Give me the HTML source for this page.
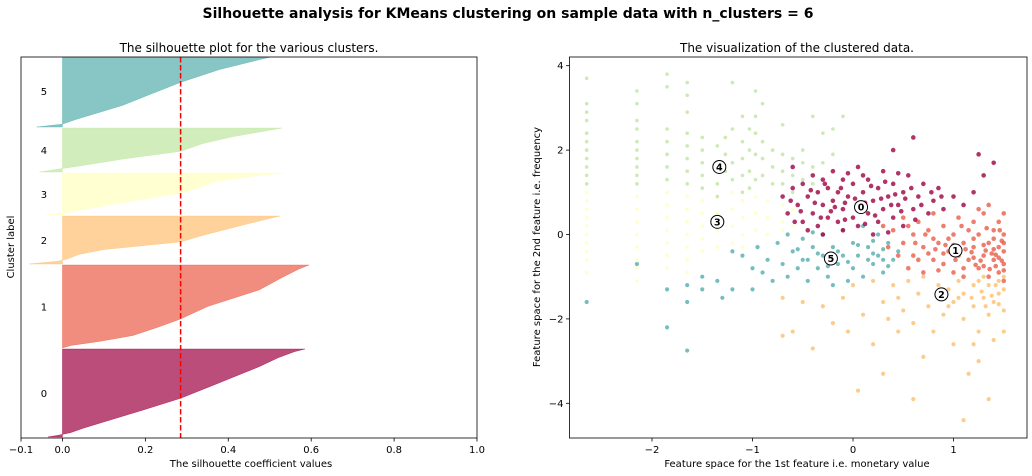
<!DOCTYPE html>
<html><head><meta charset="utf-8">
<style>
html,body{margin:0;padding:0;background:#fff;overflow:hidden;width:1032px;height:476px;}
svg{display:block;font-family:"DejaVu Sans","Liberation Sans",sans-serif;}
</style></head>
<body>
<svg id="chart" width="1032" height="476" viewBox="0 0 1032 476">
<text x="508" y="18" text-anchor="middle" font-size="14" font-weight="bold">Silhouette analysis for KMeans clustering on sample data with n_clusters = 6</text>
<text x="249" y="52" text-anchor="middle" font-size="12">The silhouette plot for the various clusters.</text>
<text x="797" y="52" text-anchor="middle" font-size="12">The visualization of the clustered data.</text>
<g id="left"></g>
<g id="right"></g>
<text x="251" y="467" text-anchor="middle" font-size="10">The silhouette coefficient values</text>
<text transform="translate(14,247) rotate(-90)" text-anchor="middle" font-size="10">Cluster label</text>
<text x="797" y="467" text-anchor="middle" font-size="10">Feature space for the 1st feature i.e. monetary value</text>
<text transform="translate(540,247) rotate(-90)" text-anchor="middle" font-size="10">Feature space for the 2nd feature i.e. frequency</text>
</svg>
<script>
// ---- silhouette data ----
const clusterIds = [0,1,2,3,4,5];
const clusterSizes = [880, 830, 480, 420, 440, 720];
const clusterGap = 10;
const silFractions = [
  [0,0.02,0.05,0.1,0.2,0.3,0.44,0.6,0.8,0.9,0.97,1],
  [0,0.03,0.08,0.15,0.25,0.35,0.5,0.7,0.85,0.95,1],
  [0,0.06,0.1,0.2,0.3,0.46,0.6,0.8,0.95,1],
  [0,0.04,0.2,0.35,0.52,0.65,0.8,0.95,1],
  [0,0.08,0.12,0.3,0.47,0.65,0.8,0.95,1],
  [0,0.04,0.1,0.3,0.45,0.62,0.8,0.97,1]
];
const silValues = [
  [-0.035,-0.01,0.02,0.05,0.12,0.19,0.285,0.37,0.475,0.52,0.56,0.585],
  [0.0,0.02,0.09,0.17,0.23,0.285,0.35,0.475,0.53,0.57,0.595],
  [-0.08,-0.01,0.01,0.04,0.1,0.285,0.34,0.43,0.5,0.525],
  [-0.04,0.0,0.09,0.18,0.285,0.33,0.37,0.48,0.535],
  [-0.055,0.0,0.03,0.15,0.285,0.34,0.41,0.5,0.53],
  [-0.062,0.0,0.03,0.145,0.21,0.285,0.38,0.5,0.51]
];
const silAverage = 0.285;
const silXTicks = [-0.1,0,0.2,0.4,0.6,0.8,1.0];
const silXTickLabels = ["−0.1","0.0","0.2","0.4","0.6","0.8","1.0"];
const colors = ["#9e0142","#e95c47","#fdbf6f","#ffffbe","#bfe5a0","#54aead"];

// ---- scatter data ----
const c0Pts = [-0.7,0.9,-0.65,0.5,-0.6,1.1,-0.55,0.7,-0.5,0.3,-0.5,1.2,-0.45,0.9,-0.4,0.5,-0.4,1.4,-0.35,0.2,-0.35,1.0,-0.3,0.7,-0.3,1.3,-0.25,0.4,-0.25,1.1,-0.2,0.8,-0.2,1.5,-0.15,0.3,-0.15,1.0,-0.1,0.6,-0.1,1.3,-0.05,0.9,0,0.4,0,1.2,0.05,0.7,0.05,1.6,0.1,1.0,0.15,0.5,0.15,1.3,0.2,0.8,0.25,0.3,0.25,1.1,0.3,0.6,0.3,1.5,0.35,0.9,0.4,0.4,0.4,1.2,0.45,0.7,0.5,1.0,0.5,0.2,0.55,1.4,0.6,0.6,0.65,0.9,0.7,1.2,0.75,0.5,0.8,0.8,0.85,1.1,0.9,0.6,1.0,0.9,1.1,0.7,1.2,1.0,1.3,1.4,0.6,2.3,0.4,2.0,1.4,1.7,1.25,1.9,-0.6,1.6,-0.3,0.0,0.2,0.0,-0.45,0.1,0.05,0.2,-0.1,0.1,0.35,0.05,0.1,1.4,-0.05,1.45,-0.62,0.8,-0.38,0.75,-0.22,0.55,-0.08,0.35,0.12,0.75,0.28,0.85,0.48,0.55,0.62,0.35,0.78,1.0,-0.52,0.55,-0.28,1.2,-0.12,1.1,0.18,1.15,0.42,0.95,0.58,1.1,-0.42,1.05,-0.18,0.65,0.02,0.85,0.22,0.45,0.38,0.7,0.52,0.85,0.68,0.7,0.88,0.9,-0.58,0.3,-0.32,0.4,-0.08,0.75,0.12,0.25,0.32,1.25,0.45,1.45];
const c1Pts = [0.3,0.2,0.35,-0.3,0.4,0.1,0.45,-0.5,0.5,0.4,0.5,-0.2,0.55,-0.8,0.6,0.0,0.6,-0.5,0.65,0.3,0.7,-0.3,0.7,-0.9,0.75,0.1,0.8,-0.6,0.8,0.5,0.85,-0.2,0.9,0.2,0.9,-0.7,0.95,-0.4,1.0,0.0,1.0,-0.9,1.05,0.4,1.05,-0.5,1.1,-0.2,1.1,-1.0,1.15,0.1,1.15,-0.6,1.2,-0.3,1.2,0.3,1.25,-0.8,1.25,0.0,1.3,-0.5,1.3,0.5,1.35,-0.2,1.35,-1.0,1.4,0.1,1.4,-0.6,1.45,-0.3,1.45,-0.9,1.5,0.0,1.5,-0.4,1.5,-0.7,1.5,-1.1,1.5,0.5,1.5,-0.2,1.45,0.3,1.4,-0.1,1.3,-0.75,1.2,-0.55,1.1,-0.8,1.0,-0.25,0.9,-0.45,0.8,-0.1,0.65,-0.6,0.55,0.2,1.25,0.6,1.35,0.7,1.4,-0.35,1.45,-0.55,1.5,-0.85,1.2,-0.1,1.3,-0.25,1.38,-0.45,1.42,-0.75,1.48,-0.15,1.33,0.15,1.18,-0.42,1.08,0.2,0.95,-0.1,0.85,-0.85,0.75,-0.45,1.27,-0.62,1.22,-0.72,1.32,-0.38,1.42,-0.48,1.48,-0.62,1.12,-0.35,1.02,-0.6,0.92,-0.25,0.82,-0.35,0.62,-0.2,0.72,0.0,1.36,-0.82,1.46,0.1];
const c2Pts = [-0.7,-1.5,-0.7,-2.4,-0.6,-2.3,-0.5,-1.6,-0.4,-2.7,-0.3,-1.7,-0.2,-2.1,-0.1,-1.5,-0.05,-2.3,0.0,-1.2,0.05,-3.7,0.1,-1.9,0.2,-1.1,0.2,-2.6,0.3,-1.6,0.3,-3.3,0.4,-1.2,0.45,-2.3,0.5,-1.8,0.55,-1.1,0.6,-2.1,0.65,-1.4,0.7,-2.9,0.7,-1.0,0.75,-1.7,0.8,-2.3,0.85,-1.2,0.9,-1.9,0.95,-1.3,1.0,-2.6,1.0,-1.6,1.05,-1.1,1.1,-2.0,1.1,-1.4,1.15,-3.3,1.2,-1.2,1.2,-1.7,1.25,-2.3,1.3,-1.0,1.3,-1.5,1.35,-1.9,1.35,-1.2,1.4,-1.6,1.4,-2.5,1.45,-1.1,1.45,-1.4,1.5,-1.8,1.5,-1.3,1.5,-2.3,1.5,-1.0,1.1,-4.4,1.35,-3.9,0.6,-3.9,1.25,-3.0,0.45,-1.5,0.35,-2.0,1.2,-2.6,1.28,-1.35,1.38,-1.45,1.42,-1.2,1.32,-1.7,1.18,-1.5,1.25,-1.1,1.45,-1.65,1.05,-1.5,0.95,-1.7];
const c3Pts = [-2.65,1.0,-2.65,0.8,-2.65,0.6,-2.65,0.4,-2.65,0.2,-2.65,0,-2.65,-0.2,-2.65,-0.4,-2.65,-0.6,-2.65,-0.9,-2.15,0.9,-2.15,0.6,-2.15,0.3,-2.15,0,-2.15,-0.3,-2.15,-0.6,-2.15,-0.8,-2.15,-1.1,-1.85,1.0,-1.85,0.7,-1.85,0.4,-1.85,0.1,-1.85,-0.2,-1.85,-0.5,-1.85,-0.8,-1.65,0.9,-1.65,0.6,-1.65,0.3,-1.65,0,-1.65,-0.3,-1.65,-0.6,-1.65,-0.9,-1.5,0.8,-1.5,0.5,-1.5,0.2,-1.5,-0.1,-1.5,-0.4,-1.35,0.9,-1.35,0.5,-1.35,0.1,-1.35,-0.3,-1.2,1.0,-1.2,0.6,-1.2,0.2,-1.2,-0.2,-1.1,0.8,-1.1,0.4,-1.1,0.0,-1.1,-0.3,-0.97,0.9,-0.97,0.5,-0.97,0.1,-0.85,0.8,-0.85,0.4,-0.85,0.0,-0.7,0.7,-0.7,0.3,-0.7,0.1,-0.6,0.6,-0.6,0.2];
const c4Pts = [-2.65,3.7,-2.65,3.1,-2.65,2.9,-2.65,2.7,-2.65,2.4,-2.65,2.2,-2.65,2.0,-2.65,1.8,-2.65,1.6,-2.65,1.4,-2.65,1.2,-2.15,3.4,-2.15,3.1,-2.15,2.7,-2.15,2.5,-2.15,2.2,-2.15,2.0,-2.15,1.8,-2.15,1.6,-2.15,1.4,-2.15,1.2,-1.85,3.8,-1.85,3.5,-1.85,2.5,-1.85,2.2,-1.85,1.9,-1.85,1.6,-1.85,1.3,-1.65,3.6,-1.65,3.3,-1.65,2.9,-1.65,2.4,-1.65,2.1,-1.65,1.8,-1.65,1.5,-1.65,1.2,-1.5,2.3,-1.5,2.0,-1.5,1.7,-1.5,1.4,-1.5,1.1,-1.35,2.1,-1.35,1.2,-1.35,0.9,-1.27,2.3,-1.27,1.9,-1.27,1.5,-1.2,3.6,-1.2,2.5,-1.2,1.7,-1.2,1.3,-1.1,2.8,-1.1,2.2,-1.1,1.8,-1.1,1.4,-1.1,1.0,-1.03,2.5,-1.03,2.0,-1.03,1.5,-1.03,1.1,-0.97,3.4,-0.97,2.8,-0.97,2.4,-0.97,1.9,-0.97,1.3,-0.9,3.1,-0.9,2.2,-0.9,1.8,-0.9,1.4,-0.8,2.0,-0.8,1.6,-0.8,1.2,-0.7,2.6,-0.7,1.9,-0.7,1.5,-0.7,1.2,-0.6,1.8,-0.6,1.4,-0.6,1.0,-0.5,1.7,-0.5,1.3,-0.5,2.0,-0.4,2.8,-0.4,1.6,-0.4,1.2,-0.3,2.4,-0.3,1.7,-0.2,2.5,-0.2,1.9,-0.1,2.8];
const c5Pts = [-2.65,-1.6,-2.15,-0.7,-1.85,-1.3,-1.85,-2.2,-1.65,-1.2,-1.65,-1.6,-1.65,-2.75,-1.5,-1.0,-1.5,-1.3,-1.35,-1.1,-1.3,-1.5,-1.2,-0.4,-1.2,-1.3,-1.1,-0.5,-1.0,-0.8,-1.0,-1.3,-0.95,-0.3,-0.9,-0.9,-0.85,-0.6,-0.8,-1.1,-0.75,-0.2,-0.7,-0.7,-0.65,-1.0,-0.6,-0.4,-0.55,-0.8,-0.5,-0.1,-0.5,-0.6,-0.45,-1.1,-0.4,-0.3,-0.35,-0.8,-0.3,-0.5,-0.3,0.0,-0.25,-1.0,-0.2,-0.3,-0.15,-0.7,-0.1,0.1,-0.1,-0.5,-0.05,-1.1,0.0,-0.2,0.0,-0.8,0.05,-0.5,0.1,0.2,0.1,-1.0,0.15,-0.3,0.2,-0.7,0.25,0.0,0.25,-0.5,0.3,-0.9,0.35,-0.2,0.4,-0.6,0.45,-0.4,0.3,-0.35,-0.55,-0.35,-0.65,0.0,-0.4,0.05,0.2,-0.15,-0.2,-1.2,-0.35,-0.45,-0.15,-0.4,0.05,-0.25,0.15,-0.6,-0.45,-0.6,-0.25,-0.75,0.3,-0.6,0.2,-0.45,0.35,-0.75,-0.05,-0.65];
const scatterSets = [c0Pts,c1Pts,c2Pts,c3Pts,c4Pts,c5Pts];
const centerX = [0.08,1.02,0.88,-1.35,-1.33,-0.22];
const centerY = [0.65,-0.38,-1.42,0.3,1.6,-0.57];
const scXTicks = [-2,-1,0,1];
const scXTickLabels = ["−2","−1","0","1"];
const scYTicks = [4,2,0,-2,-4];
const scYTickLabels = ["4","2","0","−2","−4"];

const NS = "http://www.w3.org/2000/svg";
function mk(parent, tag, attrs){ const e=document.createElementNS(NS,tag); for(const k in attrs) e.setAttribute(k,attrs[k]); parent.appendChild(e); return e; }

// ---- left: silhouette ----
const L = {x0:21, x1:477, y0:57, y1:438};
const sxL = v => L.x0 + (v - (-0.1)) / 1.1 * (L.x1 - L.x0);
const yMaxL = 3810;
const syL = v => L.y1 - v / yMaxL * (L.y1 - L.y0);
const left = document.getElementById('left');
const clip = mk(left,'clipPath',{id:'clipL'});
mk(clip,'rect',{x:L.x0,y:L.y0,width:L.x1-L.x0,height:L.y1-L.y0});
const lg = mk(left,'g',{'clip-path':'url(#clipL)'});
let yLower = 10;
clusterIds.forEach((c,i)=>{
  const size = clusterSizes[i];
  const fr = silFractions[i], vals = silValues[i];
  let d = `M${sxL(0)},${syL(yLower)}`;
  fr.forEach((f,j)=>{ d += ` L${sxL(vals[j])},${syL(yLower + f*size)}`; });
  d += ` L${sxL(0)},${syL(yLower+size)} Z`;
  const p = mk(lg,'path',{d:d, fill:colors[i], 'fill-opacity':0.7, stroke:colors[i], 'stroke-opacity':0.7, 'stroke-width':0.5});
  
  
  const t = mk(left,'text',{x:sxL(-0.05)-1, y:syL(yLower+size/2)+4, 'font-size':10});
  t.textContent = String(c);
  
  
  yLower += size + clusterGap;
});
const avg = mk(lg,'line',{x1:sxL(silAverage),x2:sxL(silAverage),y1:L.y0,y2:L.y1,stroke:'#ff0000','stroke-width':1.5,'stroke-dasharray':'5.5,2.5'});


const fL = mk(left,'rect',{x:L.x0,y:L.y0,width:L.x1-L.x0,height:L.y1-L.y0,fill:'none',stroke:'#000','stroke-width':0.8});


silXTicks.forEach((v,i)=>{
  const x = sxL(v);
  mk(left,'line',{x1:x,x2:x,y1:L.y1,y2:L.y1+3.5,stroke:'#000','stroke-width':0.8});
  const t = mk(left,'text',{x:x,y:L.y1+15,'text-anchor':'middle','font-size':10});
  t.textContent = silXTickLabels[i];
  
  
});

// ---- right: scatter ----
const R = {x0:569.5, x1:1027, y0:57, y1:438};
const sxR = v => 853 + v * 100.5;
const syR = v => 234.5 - v * 42.2;
const right = document.getElementById('right');
const clipR = mk(right,'clipPath',{id:'clipR'});
mk(clipR,'rect',{x:R.x0,y:R.y0,width:R.x1-R.x0,height:R.y1-R.y0});
const rg = mk(right,'g',{'clip-path':'url(#clipR)'});
const order = [3,4,5,2,1,0];
const radii = [2.3,2.3,2.1,1.8,1.8,2.1];
order.forEach(ci=>{
  const pts = scatterSets[ci];
  const g = mk(rg,'g',{});
  
  
  for(let k=0;k<pts.length;k+=2){
    mk(g,'circle',{cx:sxR(pts[k]),cy:syR(pts[k+1]),r:radii[ci],fill:colors[ci],'fill-opacity':0.8});
  }
});
clusterIds.forEach((c,i)=>{
  const cx = sxR(centerX[i]), cy = syR(centerY[i]);
  const m = mk(right,'circle',{cx:cx,cy:cy,r:6.5,fill:'#fff',stroke:'#000','stroke-width':1});
  
  
  const t = mk(right,'text',{x:cx,y:cy+3.5,'text-anchor':'middle','font-size':9.5,'font-weight':'bold'});
  t.textContent = String(c);
  
  
});
const fR = mk(right,'rect',{x:R.x0,y:R.y0,width:R.x1-R.x0,height:R.y1-R.y0,fill:'none',stroke:'#000','stroke-width':0.8});


scXTicks.forEach((v,i)=>{
  const x = sxR(v);
  mk(right,'line',{x1:x,x2:x,y1:R.y1,y2:R.y1+3.5,stroke:'#000','stroke-width':0.8});
  const t = mk(right,'text',{x:x,y:R.y1+15,'text-anchor':'middle','font-size':10});
  t.textContent = scXTickLabels[i];
  
  
});
scYTicks.forEach((v,i)=>{
  const y = syR(v);
  mk(right,'line',{x1:R.x0-3.5,x2:R.x0,y1:y,y2:y,stroke:'#000','stroke-width':0.8});
  const t = mk(right,'text',{x:R.x0-6,y:y+3.5,'text-anchor':'end','font-size':10});
  t.textContent = scYTickLabels[i];
  
  
});
</script>
</body></html>
